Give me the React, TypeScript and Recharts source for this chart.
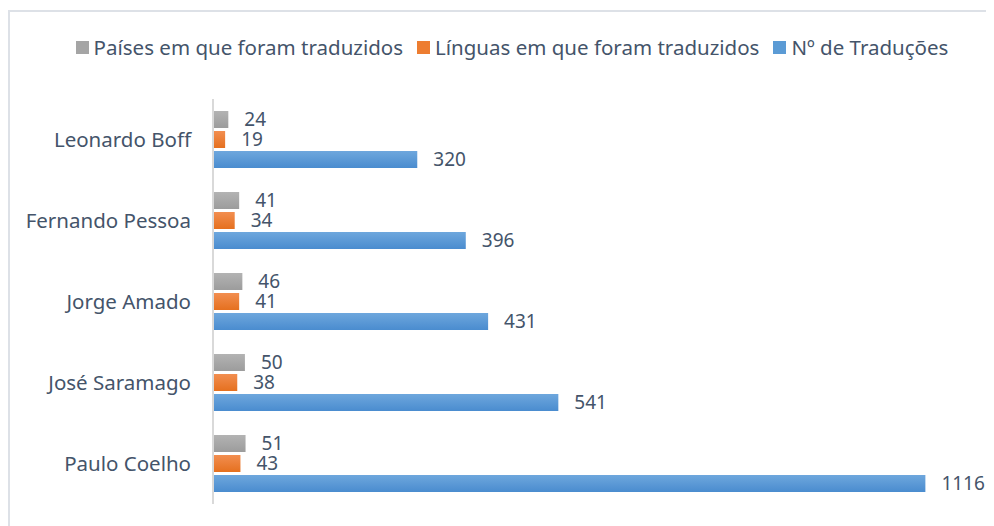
import React from 'react';
import { BarChart, Bar, XAxis, YAxis, LabelList } from 'recharts';

// authors, top to bottom
const autores = ['Leonardo Boff', 'Fernando Pessoa', 'Jorge Amado', 'José Saramago', 'Paulo Coelho'];
const paises = [24, 41, 46, 50, 51];
const linguas = [19, 34, 41, 38, 43];
const traducoes = [320, 396, 431, 541, 1116];

const series = [
  { key: 'paises', name: 'Países em que foram traduzidos', grad: 'gGray', swatch: '#a5a5a5' },
  { key: 'linguas', name: 'Línguas em que foram traduzidos', grad: 'gOrange', swatch: '#ed7d31' },
  { key: 'traducoes', name: 'Nº de Traduções', grad: 'gBlue', swatch: '#5b9bd5' },
];

const data = autores.map((nome, i) => ({
  nome,
  paises: paises[i],
  linguas: linguas[i],
  traducoes: traducoes[i],
}));

const FONT = '"Noto Sans", sans-serif';
const TEXT = '#44546a';
const FS = 20.5;

const App: React.FC = () => {
  return (
    <div
      style={{
        position: 'relative',
        width: 986,
        height: 516,
        marginTop: 2,
        borderTop: '2px solid #dde1e7',
        borderLeft: '2px solid #dde1e7',
        boxSizing: 'border-box',
        fontFamily: FONT,
      }}
    >
      {/* legend */}
      <div
        style={{
          position: 'absolute',
          top: 22,
          left: 0,
          width: 984,
          paddingLeft: 20,
          boxSizing: 'border-box',
          display: 'flex',
          justifyContent: 'center',
          gap: 14,
          fontSize: FS,
          lineHeight: '26px',
          color: TEXT,
          whiteSpace: 'nowrap',
        }}
      >
        {series.map((s) => (
          <div key={s.key} style={{ display: 'flex', alignItems: 'center', gap: 5 }}>
            <span style={{ width: 13, height: 13, background: s.swatch, display: 'inline-block' }} />
            <span>{s.name}</span>
          </div>
        ))}
      </div>
      <div style={{ position: 'absolute', top: 0, left: 0 }}>
        <BarChart
          width={984}
          height={514}
          data={data}
          layout="vertical"
          margin={{ top: 87, right: 15, bottom: 22, left: 0 }}
          barSize={17}
          barGap={3}
        >
          <defs>
            <linearGradient id="gGray" x1="0" y1="0" x2="0" y2="1">
              <stop offset="0%" stopColor="#b3b3b3" />
              <stop offset="100%" stopColor="#9c9c9c" />
            </linearGradient>
            <linearGradient id="gOrange" x1="0" y1="0" x2="0" y2="1">
              <stop offset="0%" stopColor="#f28e50" />
              <stop offset="100%" stopColor="#e5701f" />
            </linearGradient>
            <linearGradient id="gBlue" x1="0" y1="0" x2="0" y2="1">
              <stop offset="0%" stopColor="#6ea7dd" />
              <stop offset="100%" stopColor="#4a8ccf" />
            </linearGradient>
          </defs>
          <XAxis type="number" domain={[0, 1200]} hide />
          <YAxis
            type="category"
            dataKey="nome"
            width={203}
            tickLine={false}
            tickSize={0}
            tickMargin={22}
            axisLine={{ stroke: '#d9d9d9', strokeWidth: 2 }}
            tick={{ fill: TEXT, fontSize: FS, fontFamily: FONT }}
          />
          {series.map((s) => (
            <Bar key={s.key} dataKey={s.key} name={s.name} fill={`url(#${s.grad})`} isAnimationActive={false}>
              <LabelList
                dataKey={s.key}
                position="right"
                offset={16}
                fill={TEXT}
                fontSize={19}
                fontFamily={FONT}
              />
            </Bar>
          ))}
        </BarChart>
      </div>
    </div>
  );
};

export default App;
